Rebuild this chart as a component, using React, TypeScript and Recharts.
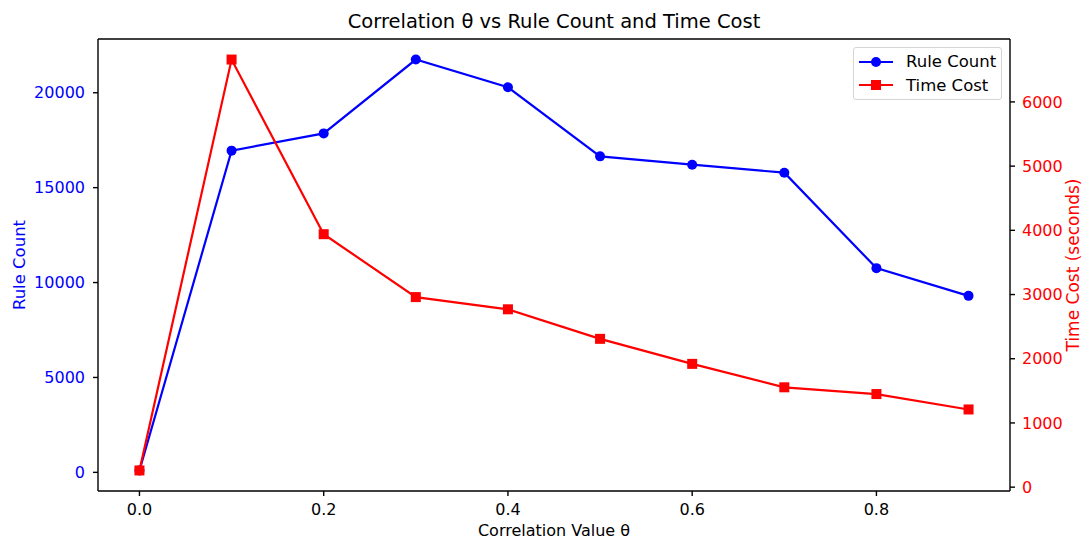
import React from "react";
import { LineChart, Line, XAxis, YAxis, ReferenceLine } from "recharts";

const thetas = [0, 0.1, 0.2, 0.3, 0.4, 0.5, 0.6, 0.7, 0.8, 0.9];
const ruleCounts = [100, 16950, 17860, 21750, 20290, 16650, 16210, 15790, 10760, 9300];
const timeCosts = [260, 6660, 3940, 2960, 2770, 2310, 1920, 1555, 1450, 1210];

const xTicks = [0, 0.2, 0.4, 0.6, 0.8];
const ruleTicks = [0, 5000, 10000, 15000, 20000];
const timeTicks = [0, 1000, 2000, 3000, 4000, 5000, 6000];

const seriesNames = ["Rule Count", "Time Cost"];

const BLUE = "#0000ff";
const RED = "#ff0000";
const FONT = "'DejaVu Sans', sans-serif";

const data = thetas.map((t, i) => ({ theta: t, rule: ruleCounts[i], time: timeCosts[i] }));

// matplotlib-style 5% padding around the data range
const pad = (vals: number[], frac = 0.05): [number, number] => {
  const lo = Math.min(...vals);
  const hi = Math.max(...vals);
  const d = (hi - lo) * frac;
  return [lo - d, hi + d];
};
const xDomain = pad(thetas);
const ruleDomain = pad(ruleCounts);
const timeDomain = pad(timeCosts);

const SquareDot = (props: any) => {
  const { cx, cy } = props;
  if (cx == null || cy == null) return null;
  return <rect x={cx - 5} y={cy - 5} width={10} height={10} fill={RED} />;
};

const RuleLabel = (props: any) => {
  const vb = props.viewBox || {};
  const cx = vb.x + 19;
  const cy = vb.y + vb.height / 2;
  return (
    <text x={cx} y={cy} transform={`rotate(-90 ${cx} ${cy})`} textAnchor="middle" dominantBaseline="central" fill={BLUE} fontSize={16.5}>
      Rule Count
    </text>
  );
};

const TimeLabel = (props: any) => {
  const vb = props.viewBox || {};
  const cx = vb.x + 63;
  const cy = vb.y + vb.height / 2;
  return (
    <text x={cx} y={cy} transform={`rotate(-90 ${cx} ${cy})`} textAnchor="middle" dominantBaseline="central" fill={RED} fontSize={17}>
      Time Cost (seconds)
    </text>
  );
};

const LegendBox = () => (
  <div
    style={{
      position: "absolute",
      left: 853,
      top: 47,
      width: 149,
      height: 53,
      boxSizing: "border-box",
      border: "1px solid #d4d4d4",
      borderRadius: 3,
      background: "rgba(255,255,255,0.8)",
      padding: "2px 0 0 5px",
      fontSize: 16.5,
    }}
  >
    {seriesNames.map((name, i) => {
      const color = i === 0 ? BLUE : RED;
      return (
        <div key={name} style={{ display: "flex", alignItems: "center", height: 23.5 }}>
          <svg width={34} height={12} style={{ marginRight: 13, flex: "none" }}>
            <line x1={0} y1={6} x2={34} y2={6} stroke={color} strokeWidth={2.2} />
            {i === 1 ? <rect x={12} y={1} width={10} height={10} fill={color} /> : <circle cx={17} cy={6} r={5} fill={color} />}
          </svg>
          <span style={{ whiteSpace: "nowrap" }}>{name}</span>
        </div>
      );
    })}
  </div>
);

export default function App() {
  return (
    <div style={{ position: "absolute", left: 0, top: 0, width: 1083, height: 539, background: "#fff", fontFamily: FONT }}>
      <div style={{ position: "absolute", left: 98, width: 912, top: 9, textAlign: "center", fontSize: 19.5, lineHeight: "26px", color: "#000" }}>
        Correlation θ vs Rule Count and Time Cost
      </div>
      <LineChart width={1083} height={539} data={data} margin={{ top: 39, right: 0, bottom: 0, left: 0 }}>
        <XAxis
          dataKey="theta"
          type="number"
          domain={xDomain}
          ticks={xTicks}
          tickFormatter={(v: number) => v.toFixed(1)}
          height={48}
          tickSize={5}
          tickMargin={8}
          stroke="#000"
          strokeWidth={1.4}
          tick={{ fill: "#000", fontSize: 16 }}
          label={{ value: "Correlation Value θ", position: "insideBottom", offset: 3, fill: "#000", fontSize: 16 }}
        />
        <YAxis
          yAxisId="rule"
          type="number"
          domain={ruleDomain}
          ticks={ruleTicks}
          width={98}
          tickSize={5}
          tickMargin={8}
          stroke="#000"
          strokeWidth={1.4}
          tick={{ fill: BLUE, fontSize: 16 }}
          label={<RuleLabel />}
        />
        <YAxis
          yAxisId="time"
          orientation="right"
          type="number"
          domain={timeDomain}
          ticks={timeTicks}
          width={73}
          tickSize={5}
          tickMargin={7}
          stroke="#000"
          strokeWidth={1.4}
          tick={{ fill: RED, fontSize: 16 }}
          label={<TimeLabel />}
        />
        <ReferenceLine yAxisId="rule" y={ruleDomain[1]} stroke="#000" strokeWidth={1.4} />
        <Line
          yAxisId="rule"
          dataKey="rule"
          name={seriesNames[0]}
          stroke={BLUE}
          strokeWidth={2.2}
          dot={{ r: 5, fill: BLUE, stroke: BLUE, strokeWidth: 0 }}
          activeDot={false}
          isAnimationActive={false}
        />
        <Line
          yAxisId="time"
          dataKey="time"
          name={seriesNames[1]}
          stroke={RED}
          strokeWidth={2.2}
          dot={<SquareDot />}
          activeDot={false}
          isAnimationActive={false}
        />
      </LineChart>
      <LegendBox />
    </div>
  );
}
